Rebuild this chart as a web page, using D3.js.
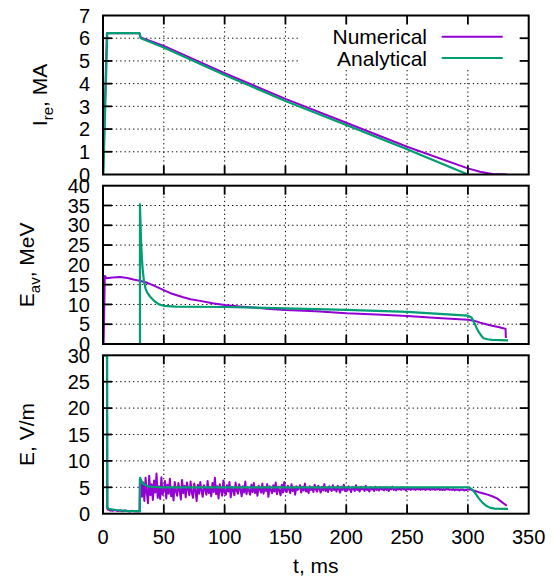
<!DOCTYPE html>
<html>
<head>
<meta charset="utf-8">
<script src="https://cdn.jsdelivr.net/npm/d3@7"></script>
<style>
  body { margin: 0; background: #fff; }
  text { font-family: "Liberation Sans", Arial, sans-serif; }
</style>
</head>
<body>
<svg id="chart"></svg>
<script>
// ---- data ----
const xTicks = [0, 50, 100, 150, 200, 250, 300, 350]
const iTicks = [0, 1, 2, 3, 4, 5, 6, 7]
const eavTicks = [0, 5, 10, 15, 20, 25, 30, 35, 40]
const eTicks = [0, 5, 10, 15, 20, 25, 30]

// runaway current, MA
const iNumT = [0, 3.2, 30, 31, 50, 100, 150, 200, 250, 300, 310, 320, 332]
const iNumV = [0, 6.22, 6.22, 6.03, 5.66, 4.46, 3.33, 2.28, 1.22, 0.27, 0.12, 0.02, 0]
const iAnaT = [0.3, 3.5, 30, 31, 50, 100, 150, 200, 250, 300]
const iAnaV = [0, 6.22, 6.22, 6.0, 5.59, 4.38, 3.24, 2.18, 1.11, 0.0]

// average energy, MeV
const eavNumT = [0.5, 1.5, 3, 8, 14, 20, 25, 30, 35, 40, 45, 50, 55, 60, 66, 72, 80, 90, 100, 112, 124, 137, 150, 175, 200, 225, 250, 275, 300, 305, 310, 315, 320, 325, 329, 331, 331.2]
const eavNumV = [0, 17.2, 16.6, 16.8, 16.9, 16.7, 16.3, 16.0, 15.6, 15.0, 14.3, 13.6, 12.9, 12.4, 11.8, 11.3, 10.9, 10.3, 9.85, 9.5, 9.2, 8.85, 8.6, 8.3, 7.75, 7.45, 7.1, 6.6, 6.1, 5.9, 5.4, 5.0, 4.6, 4.3, 4.0, 3.8, 1.5]
const eavAnaT = [30.4, 30.4, 30.8, 31.3, 32, 32.8, 33.7, 35, 36.5, 38.6, 42.8, 46, 50, 60, 100, 150, 200, 250, 300, 303, 305, 307, 309, 311, 313, 316, 320, 333]
const eavAnaV = [0, 35.3, 31, 26, 21.5, 18.3, 15.8, 14, 12.9, 12.0, 10.7, 10.0, 9.65, 9.45, 9.35, 9.0, 8.6, 8.1, 7.15, 6.7, 5.5, 4.2, 3.0, 2.1, 1.45, 1.2, 1.05, 0.93]

// electric field, V/m
const eNumHeadT = [0, 3.2, 3.5, 4, 6, 8, 10, 12, 14, 16, 18, 20, 22, 24, 26, 28, 30, 30.3]
const eNumHeadV = [30, 30, 1.0, 0.8, 0.6, 0.55, 0.7, 0.5, 0.6, 0.45, 0.6, 0.5, 0.4, 0.55, 0.45, 0.5, 0.4, 6.5]
// noisy part, one value per ms from t = 31 to t = 300
const eNumNoise = [
  6.5, 3.2, 5.9, 2.4, 6.8, 4.1, 2.0, 7.2, 3.5, 5.6,
  2.6, 6.3, 4.0, 7.6, 3.0, 5.2, 2.8, 6.9, 3.6, 4.4,
  6.2, 2.9, 5.5, 3.8, 6.6, 3.3, 4.9, 2.5, 6.0, 4.2,
  3.4, 5.8, 4.5, 2.7, 6.4, 3.9, 5.3, 3.1, 5.9, 4.6,
  3.5, 6.1, 4.0, 3.0, 5.7, 4.4, 2.4, 5.5, 3.8, 6.0,
  4.3, 3.2, 5.4, 4.7, 3.6, 6.2, 3.9, 5.0, 3.3, 5.8,
  4.1, 6.8, 3.7, 5.2, 2.9, 5.6, 4.4, 3.4, 6.3, 4.0,
  3.6, 5.4, 4.2, 6.0, 3.1, 5.1, 4.5, 3.5, 5.9, 4.3,
  3.8, 5.6, 4.6, 3.3, 5.2, 4.0, 6.1, 3.7, 5.0, 4.4,
  3.6, 5.5, 4.1, 5.8, 3.9, 4.9, 3.4, 5.3, 4.6, 4.0,
  5.7, 3.8, 5.0, 4.3, 5.6, 3.2, 5.2, 4.5, 3.9, 5.4,
  4.2, 5.9, 3.7, 5.1, 4.4, 3.5, 5.5, 4.0, 6.0, 4.3,
  4.1, 5.3, 4.6, 3.9, 5.6, 4.3, 5.0, 3.6, 5.2, 4.5,
  4.8, 5.4, 4.0, 5.1, 4.4, 5.7, 4.2, 4.9, 3.9, 5.2,
  4.5, 5.0, 4.1, 5.5, 4.6, 4.2, 5.3, 4.7, 4.0, 5.1,
  4.4, 5.6, 4.3, 4.9, 4.1, 5.2, 4.6, 4.3, 5.4, 4.5,
  4.8, 4.2, 5.3, 4.6, 4.0, 5.1, 4.5, 5.5, 4.3, 4.9,
  4.4, 5.2, 4.6, 4.1, 5.0, 4.7, 4.3, 5.4, 4.5, 4.8,
  4.2, 5.1, 4.6, 4.9, 4.3, 5.3, 4.5, 4.7, 4.2, 5.0,
  4.6, 4.8, 4.3, 5.1, 4.5, 4.9, 4.4, 5.0, 4.6, 4.7,
  4.4, 5.0, 4.5, 4.8, 4.3, 4.9, 4.6, 5.1, 4.5, 4.7,
  4.4, 4.9, 4.6, 4.8, 4.5, 5.0, 4.6, 4.7, 4.4, 4.9,
  4.6, 4.8, 4.5, 4.9, 4.6, 4.7, 4.5, 4.9, 4.6, 4.8,
  4.5, 4.8, 4.6, 4.9, 4.5, 4.7, 4.6, 4.8, 4.5, 4.7,
  4.6, 4.8, 4.5, 4.7, 4.6, 4.8, 4.5, 4.7, 4.5, 4.7,
  4.5, 4.7, 4.6, 4.7, 4.5, 4.6, 4.5, 4.7, 4.4, 4.6,
  4.5, 4.6, 4.4, 4.6, 4.5, 4.6, 4.4, 4.5, 4.5, 4.6
]
const eNumTailT = [302, 306, 310, 315, 320, 324, 328, 332]
const eNumTailV = [4.6, 4.3, 4.0, 3.7, 3.3, 2.9, 2.2, 1.5]
const eAnaT = [0, 3.4, 3.6, 5, 10, 20, 30, 30.3, 30.5, 31, 32, 33, 35, 37, 40, 45, 50, 300, 300.5, 303, 306, 309, 312, 315, 318, 322, 333]
const eAnaV = [30, 30, 1.2, 0.9, 0.7, 0.55, 0.5, 0.5, 6.8, 6.4, 6.0, 5.7, 5.4, 5.2, 5.08, 5.02, 5.0, 5.0, 5.0, 4.7, 3.9, 2.9, 2.1, 1.5, 1.15, 0.95, 0.9]

const numColor = '#9400d3'
const anaColor = '#009e73'

// ---- layout ----
const width = 553
const height = 578
const svg = d3.select('svg#chart').attr('width', width).attr('height', height)

const x = d3.scaleLinear().domain([0, 350]).range([103, 528.7])

const zip = (t, v) => t.map((d, i) => [d, v[i]])
const noiseT = d3.range(31, 31 + eNumNoise.length)

const panels = [
  { id: 'p1', top: 15.5, bottom: 174.5, max: 7, ticks: iTicks, labelX: 46.5,
    label: ['I', 're', ', MA'],
    num: zip(iNumT, iNumV), ana: zip(iAnaT, iAnaV), legend: true },
  { id: 'p2', top: 185.7, bottom: 344, max: 40, ticks: eavTicks, labelX: 33.5,
    label: ['E', 'av', ', MeV'],
    num: zip(eavNumT, eavNumV), ana: zip(eavAnaT, eavAnaV) },
  { id: 'p3', top: 355.3, bottom: 513.7, max: 30, ticks: eTicks, labelX: 34.3,
    label: ['E, V/m'],
    num: zip(eNumHeadT, eNumHeadV).concat(zip(noiseT, eNumNoise), zip(eNumTailT, eNumTailV)),
    ana: zip(eAnaT, eAnaV), xLabels: true }
]

const x0 = x.range()[0]
const x1 = x.range()[1]
const tickLen = 9

panels.forEach(p => {
  const y = d3.scaleLinear().domain([0, p.max]).range([p.bottom, p.top])
  const g = svg.append('g')

  g.append('clipPath').attr('id', 'clip-' + p.id)
    .append('rect')
    .attr('x', x0).attr('y', p.top)
    .attr('width', x1 - x0).attr('height', p.bottom - p.top)

  // dotted grid
  const grid = g.append('g')
    .attr('stroke', '#000')
    .attr('stroke-width', 1)
    .attr('stroke-dasharray', '1.3,3')
  grid.selectAll('.gx').data(xTicks.slice(1, -1)).enter().append('line')
    .attr('x1', d => x(d)).attr('x2', d => x(d))
    .attr('y1', p.bottom).attr('y2', p.top)
  grid.selectAll('.gy').data(p.ticks.slice(1, -1)).enter().append('line')
    .attr('x1', x0).attr('x2', x1)
    .attr('y1', d => y(d)).attr('y2', d => y(d))

  // key box hides the grid
  if (p.legend) {
    g.append('rect')
      .attr('x', 300).attr('y', p.top)
      .attr('width', x1 - 300).attr('height', 68 - p.top)
      .attr('fill', '#fff')
  }

  const line = d3.line().x(d => x(d[0])).y(d => y(d[1]))
  const plot = g.append('g').attr('clip-path', 'url(#clip-' + p.id + ')')
  plot.append('path').datum(p.num)
    .attr('d', line).attr('fill', 'none')
    .attr('stroke', numColor).attr('stroke-width', 2)
    .attr('stroke-linejoin', 'round')
  plot.append('path').datum(p.ana)
    .attr('d', line).attr('fill', 'none')
    .attr('stroke', anaColor).attr('stroke-width', 2.2)
    .attr('stroke-linejoin', 'round')

  // ticks on all four sides, pointing in
  const tk = g.append('g').attr('stroke', '#000').attr('stroke-width', 1.8)
  xTicks.slice(1, -1).forEach(d => {
    tk.append('line').attr('x1', x(d)).attr('x2', x(d)).attr('y1', p.bottom).attr('y2', p.bottom - tickLen)
    tk.append('line').attr('x1', x(d)).attr('x2', x(d)).attr('y1', p.top).attr('y2', p.top + tickLen)
  })
  p.ticks.slice(1, -1).forEach(d => {
    tk.append('line').attr('x1', x0).attr('x2', x0 + tickLen).attr('y1', y(d)).attr('y2', y(d))
    tk.append('line').attr('x1', x1).attr('x2', x1 - tickLen).attr('y1', y(d)).attr('y2', y(d))
  })

  // frame
  g.append('rect')
    .attr('x', x0).attr('y', p.top)
    .attr('width', x1 - x0).attr('height', p.bottom - p.top)
    .attr('fill', 'none').attr('stroke', '#000').attr('stroke-width', 2)

  // y tick labels
  g.selectAll('.yl').data(p.ticks).enter().append('text')
    .attr('x', 90).attr('y', d => y(d)).attr('dy', '0.36em')
    .attr('text-anchor', 'end').attr('font-size', 20)
    .text(d => d)

  // y axis title
  const cy = (p.top + p.bottom) / 2
  const t = g.append('text')
    .attr('transform', `translate(${p.labelX},${cy}) rotate(-90)`)
    .attr('text-anchor', 'middle').attr('font-size', 21)
  t.append('tspan').text(p.label[0])
  if (p.label.length > 1) {
    t.append('tspan').attr('font-size', 15).attr('dy', 6).text(p.label[1])
    t.append('tspan').attr('dy', -6).text(p.label[2])
  }

  if (p.xLabels) {
    g.selectAll('.xl').data(xTicks).enter().append('text')
      .attr('x', d => x(d)).attr('y', 544)
      .attr('text-anchor', 'middle').attr('font-size', 20)
      .text(d => d)
    g.append('text')
      .attr('x', (x0 + x1) / 2).attr('y', 573)
      .attr('text-anchor', 'middle').attr('font-size', 21)
      .text('t, ms')
  }

  if (p.legend) {
    const keys = [['Numerical', numColor, 36.7], ['Analytical', anaColor, 58]]
    keys.forEach(k => {
      g.append('text')
        .attr('x', 427).attr('y', k[2]).attr('dy', '0.36em')
        .attr('text-anchor', 'end').attr('font-size', 21)
        .text(k[0])
      g.append('line')
        .attr('x1', 441.7).attr('x2', 502.7)
        .attr('y1', k[2]).attr('y2', k[2])
        .attr('stroke', k[1]).attr('stroke-width', 2)
    })
  }
})
</script>
</body>
</html>
